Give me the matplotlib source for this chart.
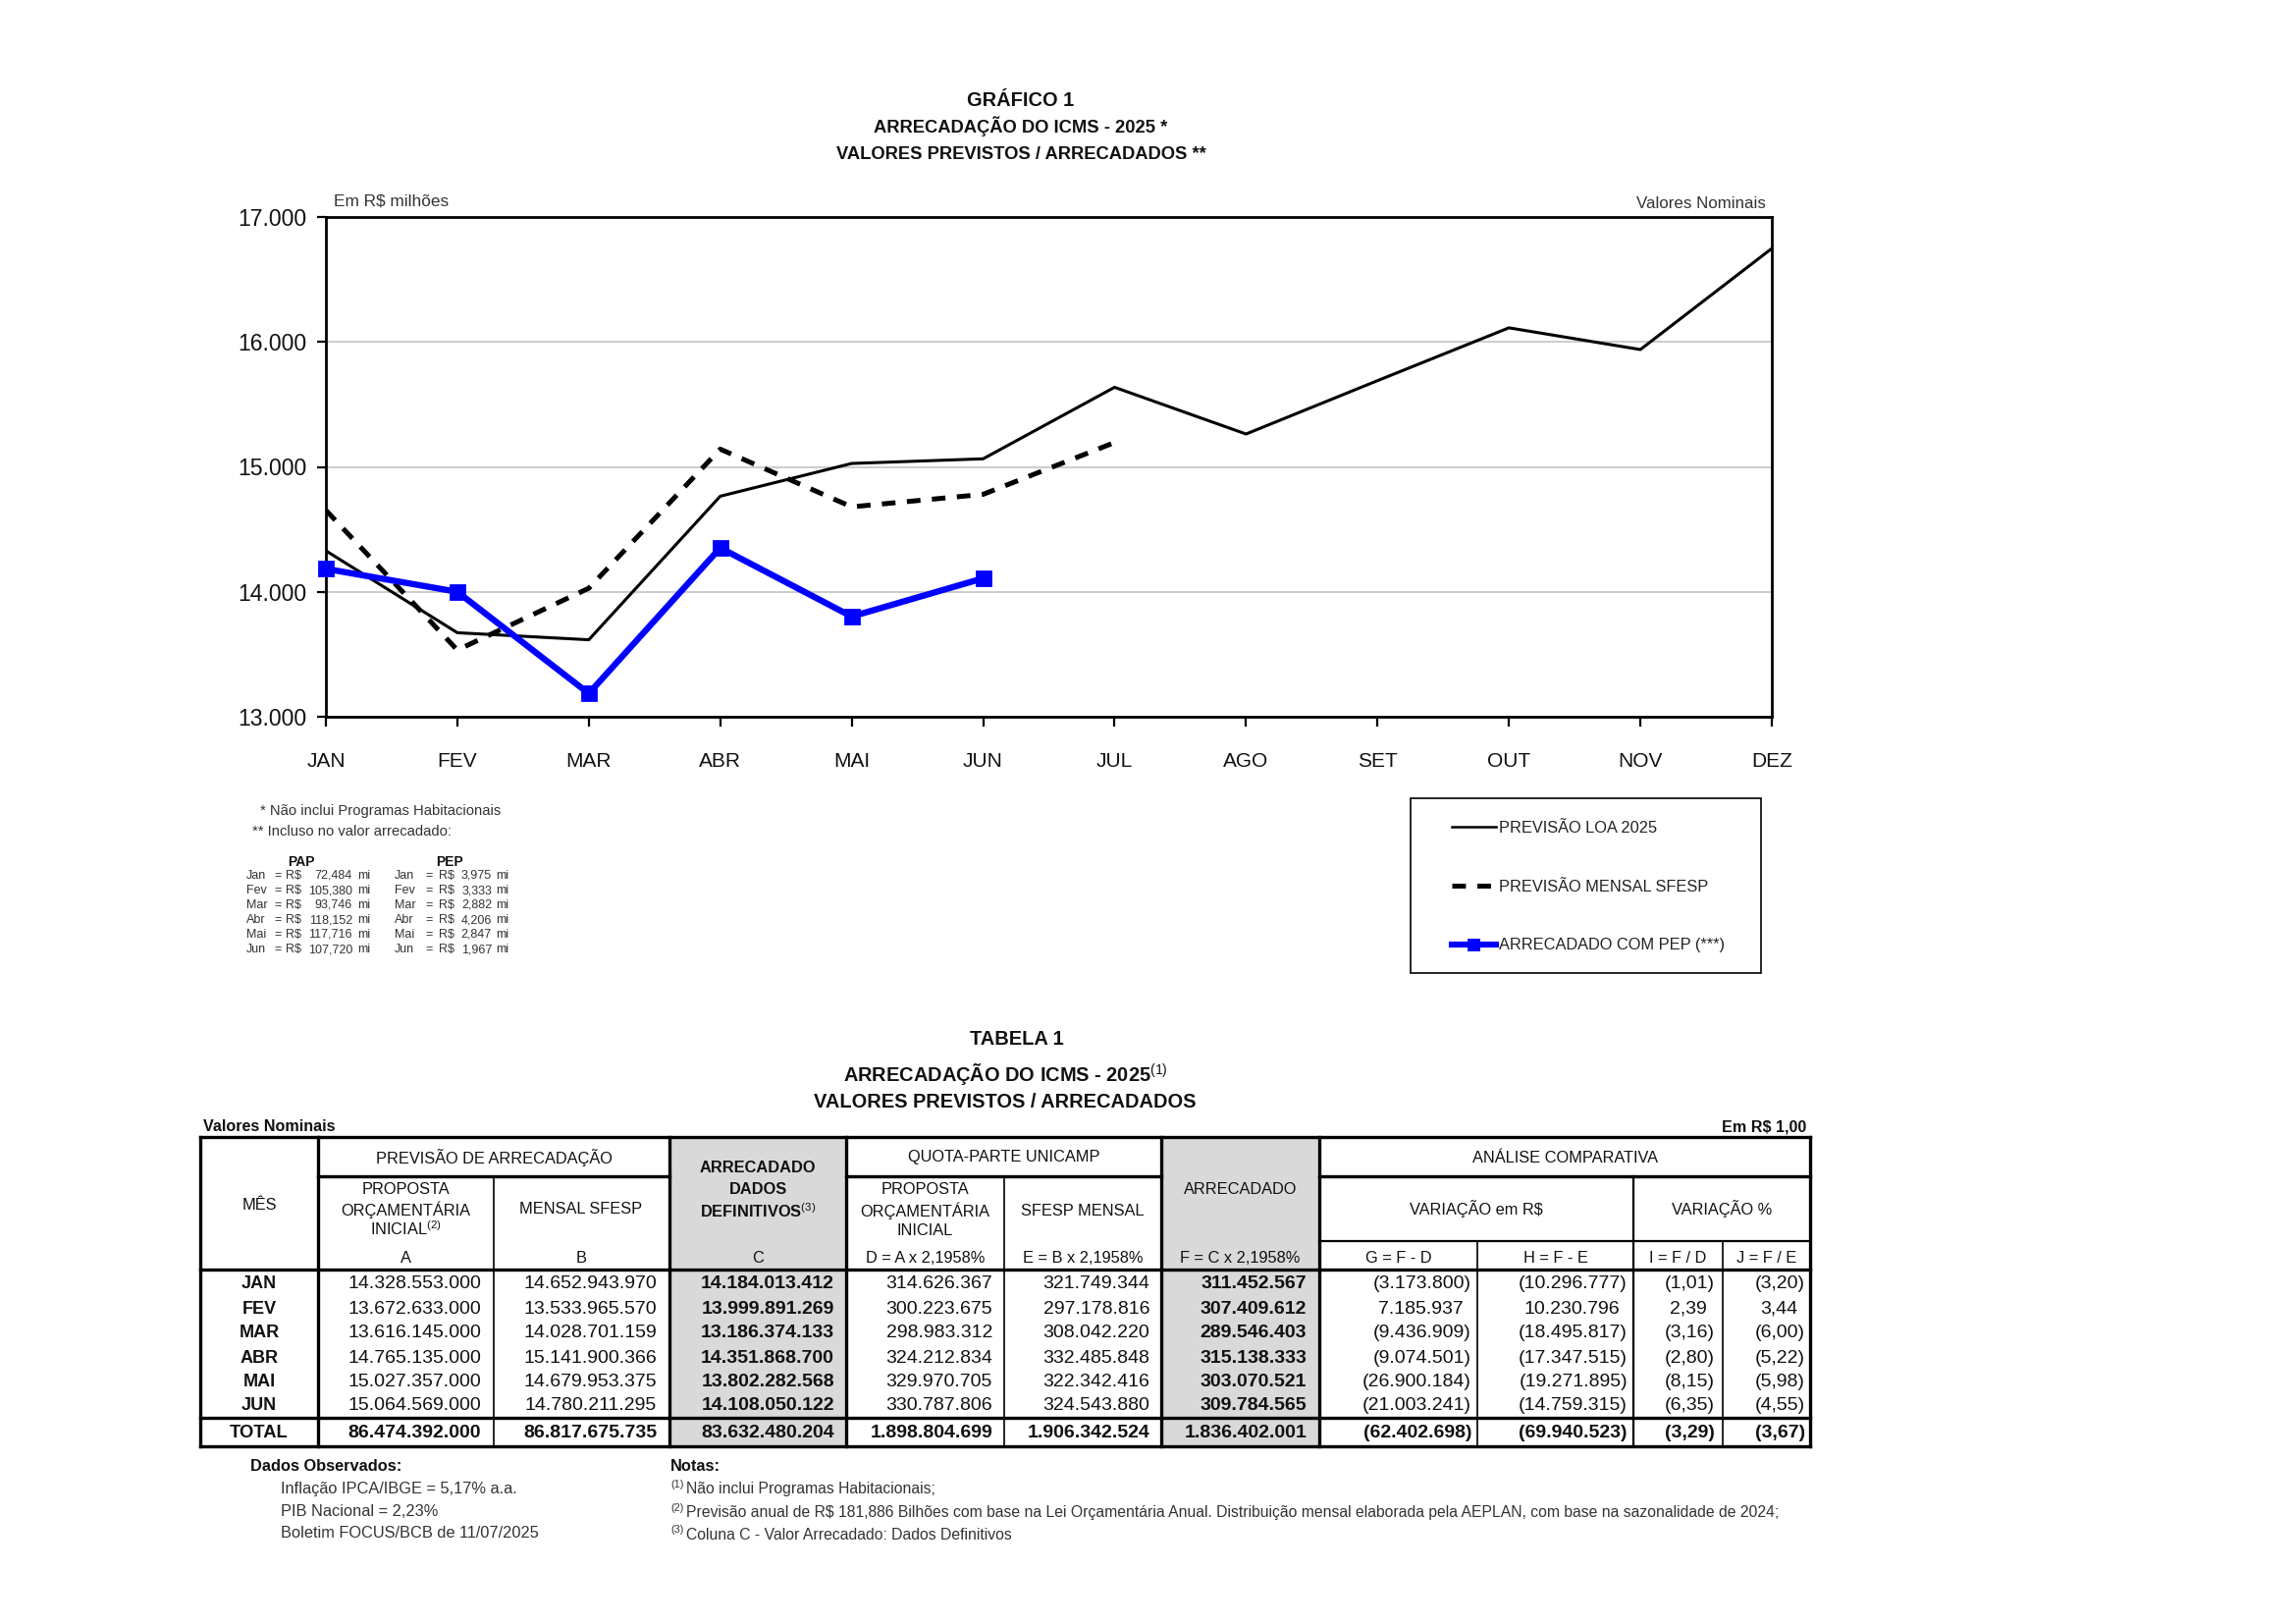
import matplotlib
matplotlib.use("Agg")
import matplotlib.pyplot as plt
from matplotlib.patches import Rectangle

# ---------------- DATA ----------------
months = ["JAN", "FEV", "MAR", "ABR", "MAI", "JUN", "JUL", "AGO", "SET", "OUT", "NOV", "DEZ"]
# chart values in R$ milhões
loa_2025 = [14328.553, 13672.633, 13616.145, 14765.135, 15027.357, 15064.569,
            15637, 15263, 15690, 16113, 15939, 16748]
sfesp_mensal = [14652.944, 13533.966, 14028.701, 15141.900, 14679.953, 14780.211, 15195]
arrecadado_pep = [14184.013, 13999.891, 13186.374, 14351.869, 13802.283, 14108.050]
y_ticks = [13000, 14000, 15000, 16000, 17000]

pap_months = ["Jan", "Fev", "Mar", "Abr", "Mai", "Jun"]
pap_vals = [72.484, 105.380, 93.746, 118.152, 117.716, 107.720]
pep_vals = [3.975, 3.333, 2.882, 4.206, 2.847, 1.967]

legend_labels = ["PREVISÃO LOA 2025", "PREVISÃO MENSAL SFESP", "ARRECADADO COM PEP (***)"]

# table values (R$ 1,00)
tab_months = ["JAN", "FEV", "MAR", "ABR", "MAI", "JUN", "TOTAL"]
col_A = [14328553000, 13672633000, 13616145000, 14765135000, 15027357000, 15064569000, 86474392000]
col_B = [14652943970, 13533965570, 14028701159, 15141900366, 14679953375, 14780211295, 86817675735]
col_C = [14184013412, 13999891269, 13186374133, 14351868700, 13802282568, 14108050122, 83632480204]
col_D = [314626367, 300223675, 298983312, 324212834, 329970705, 330787806, 1898804699]
col_E = [321749344, 297178816, 308042220, 332485848, 322342416, 324543880, 1906342524]
col_F = [311452567, 307409612, 289546403, 315138333, 303070521, 309784565, 1836402001]
col_G = [-3173800, 7185937, -9436909, -9074501, -26900184, -21003241, -62402698]
col_H = [-10296777, 10230796, -18495817, -17347515, -19271895, -14759315, -69940523]
col_I = [-1.01, 2.39, -3.16, -2.80, -8.15, -6.35, -3.29]
col_J = [-3.20, 3.44, -6.00, -5.22, -5.98, -4.55, -3.67]

# ---------------- STYLE ----------------
W, H, DPI = 2339, 1654, 200
plt.rcParams['font.family'] = ['Liberation Sans', 'DejaVu Sans']
plt.rcParams['mathtext.fontset'] = 'custom'
plt.rcParams['mathtext.rm'] = 'Liberation Sans'
plt.rcParams['mathtext.it'] = 'Liberation Sans:italic'
plt.rcParams['mathtext.bf'] = 'Liberation Sans:bold'
plt.rcParams['lines.scale_dashes'] = False

TXT = '#111111'
BLUE = '#0000ff'
GRAY = '#d9d9d9'

fig = plt.figure(figsize=(W / DPI, H / DPI), dpi=DPI)
fig.patch.set_facecolor('white')

# page overlay in pixel coordinates (origin top-left)
pg = fig.add_axes([0, 0, 1, 1])
pg.set_xlim(0, W)
pg.set_ylim(H, 0)
pg.axis('off')


def T(x, y, s, size, ha='center', va='center', weight='normal', color=TXT, **kw):
    return pg.text(x, y, s, fontsize=size, ha=ha, va=va, fontweight=weight, color=color, **kw)


# ---------------- CHART ----------------
L, R, TOP, BOT = 332, 1805, 221, 730
ax = fig.add_axes([L / W, 1 - BOT / H, (R - L) / W, (BOT - TOP) / H])
x_all = list(range(len(months)))
ax.plot(x_all[:len(loa_2025)], loa_2025, color='black', lw=1.1, zorder=3)
ax.plot(x_all[:len(sfesp_mensal)], sfesp_mensal, color='black', lw=1.8,
        dashes=(5, 4.2), zorder=3)
ax.plot(x_all[:len(arrecadado_pep)], arrecadado_pep, color=BLUE, lw=2.3, marker='s',
        ms=5, mfc=BLUE, mec=BLUE, clip_on=False, zorder=5)
ax.set_xlim(0, 11)
ax.set_ylim(13000, 17000)
ax.set_yticks(y_ticks)
ax.set_yticklabels([f"{v:,}".replace(",", ".") for v in y_ticks])
ax.set_xticks(x_all)
ax.set_xticklabels(months)
ax.yaxis.grid(True, color='#c4c4c4', lw=0.6)
ax.set_axisbelow(True)
for sp in ax.spines.values():
    sp.set_linewidth(1.0)
    sp.set_color('black')
ax.tick_params(axis='y', direction='out', length=3.2, width=0.8, pad=4, labelsize=8.3,
               labelcolor=TXT)
ax.tick_params(axis='x', direction='out', length=3.6, width=0.8, pad=9.4, labelsize=7.5,
               labelcolor=TXT)

# chart titles
T(1040, 102, "GRÁFICO 1", 7.2, weight='bold')
T(1040, 129, "ARRECADAÇÃO DO ICMS - 2025 *", 6.6, weight='bold')
T(1040, 157, "VALORES PREVISTOS / ARRECADADOS **", 6.6, weight='bold')
T(340, 205, "Em R$ milhões", 6.2, ha='left', color='#333333')
T(1799, 207, "Valores Nominais", 6.1, ha='right', color='#333333')

# footnotes under chart
T(265, 826, "* Não inclui Programas Habitacionais", 5.3, ha='left', color='#333333')
T(257, 847, "** Incluso no valor arrecadado:", 5.3, ha='left', color='#333333')
T(307, 878, "PAP", 5.0, weight='bold')
T(458, 878, "PEP", 5.0, weight='bold')
row_y0, row_dy = 892, 15
PS = 4.5
for i, m in enumerate(pap_months):
    y = row_y0 + i * row_dy
    T(251, y, m, PS, ha='left', color='#333333')
    T(283, y, "=", PS, color='#333333')
    T(291, y, "R$", PS, ha='left', color='#333333')
    T(359, y, f"{pap_vals[i]:.3f}".replace(".", ","), PS, ha='right', color='#333333')
    T(364, y, "mi", PS, ha='left', color='#333333')
    T(402, y, m, PS, ha='left', color='#333333')
    T(437, y, "=", PS, color='#333333')
    T(447, y, "R$", PS, ha='left', color='#333333')
    T(501, y, f"{pep_vals[i]:.3f}".replace(".", ","), PS, ha='right', color='#333333')
    T(505, y, "mi", PS, ha='left', color='#333333')

# legend box
pg.add_patch(Rectangle((1437, 813), 357, 178, fill=False, ec='black', lw=0.6))
pg.plot([1479, 1524], [842, 842], color='black', lw=0.9)
pg.plot([1479, 1520], [902, 902], color='black', lw=1.8, dashes=(5, 4.2))
pg.plot([1479, 1524], [962, 962], color=BLUE, lw=2.2)
pg.plot([1501], [962], color=BLUE, marker='s', ms=3.6)
for lab, y in zip(legend_labels, [843, 903, 963]):
    T(1527, y, lab, 5.9, ha='left', color='#222222')

# ---------------- TABLE ----------------
T(1036, 1059, "TABELA 1", 7.2, weight='bold')
T(1024, 1095, r"ARRECADAÇÃO DO ICMS - 2025$^{(1)}$", 7.2, weight='bold')
T(1024, 1123, "VALORES PREVISTOS / ARRECADADOS", 7.2, weight='bold')
T(207, 1148, "Valores Nominais", 5.8, ha='left', weight='bold')
T(1840, 1148, "Em R$ 1,00", 5.8, ha='right', weight='bold')

xs = [204, 324, 503, 682, 862, 1023, 1183, 1344, 1505, 1664, 1755, 1844]
y_top, y_h1, y_h2, y_data, y_tot, y_bot = 1158, 1198, 1264, 1293, 1444, 1473

# gray columns
pg.add_patch(Rectangle((xs[3], y_top), xs[4] - xs[3], y_bot - y_top, fc=GRAY, ec='none', zorder=0))
pg.add_patch(Rectangle((xs[6], y_top), xs[7] - xs[6], y_bot - y_top, fc=GRAY, ec='none', zorder=0))

THK, MED, THN = 1.2, 0.8, 0.6


def hl(y, x0, x1, lw):
    pg.plot([x0, x1], [y, y], color='black', lw=lw, solid_capstyle='projecting')


def vl(x, y0, y1, lw):
    pg.plot([x, x], [y0, y1], color='black', lw=lw, solid_capstyle='projecting')


for y in (y_top, y_data, y_tot, y_bot):
    hl(y, xs[0], xs[-1], THK)
hl(y_h1, xs[1], xs[3], THK)
hl(y_h1, xs[4], xs[6], THK)
hl(y_h1, xs[7], xs[11], THK)
hl(y_h2, xs[7], xs[11], MED)
for i in (0, 1, 3, 4, 6, 7, 11):
    vl(xs[i], y_top, y_bot, THK)
vl(xs[2], y_h1, y_bot, THN)
vl(xs[5], y_h1, y_bot, THN)
vl(xs[8], y_h2, y_bot, THN)
vl(xs[9], y_h1, y_bot, MED)
vl(xs[10], y_h2, y_bot, THN)

HS = 5.9
DY = 2
hdr = [
    (264, 1226, "MÊS", 'normal'),
    (503, 1177, "PREVISÃO DE ARRECADAÇÃO", 'normal'),
    (413.5, 1210, "PROPOSTA", 'normal'),
    (413.5, 1230, "ORÇAMENTÁRIA", 'normal'),
    (413.5, 1250, r"INICIAL$^{(2)}$", 'normal'),
    (413.5, 1279, "A", 'normal'),
    (592, 1229, "MENSAL SFESP", 'normal'),
    (592, 1279, "B", 'normal'),
    (772, 1187, "ARRECADADO", 'bold'),
    (772, 1209, "DADOS", 'bold'),
    (772, 1232, r"DEFINITIVOS$^{(3)}$", 'bold'),
    (772, 1279, "C", 'normal'),
    (1023, 1177, "QUOTA-PARTE UNICAMP", 'normal'),
    (942.5, 1210, "PROPOSTA", 'normal'),
    (942.5, 1231, "ORÇAMENTÁRIA", 'normal'),
    (942.5, 1252, "INICIAL", 'normal'),
    (942.5, 1279, "D = A x 2,1958%", 'normal'),
    (1103, 1231, "SFESP MENSAL", 'normal'),
    (1103, 1279, "E = B x 2,1958%", 'normal'),
    (1263.5, 1210, "ARRECADADO", 'normal'),
    (1263.5, 1279, "F = C x 2,1958%", 'normal'),
    (1594, 1177, "ANÁLISE COMPARATIVA", 'normal'),
    (1504, 1229, "VARIAÇÃO em R$", 'normal'),
    (1754, 1229, "VARIAÇÃO %", 'normal'),
    (1424.5, 1279, "G = F - D", 'normal'),
    (1584.5, 1279, "H = F - E", 'normal'),
    (1709.5, 1279, "I = F / D", 'normal'),
    (1799.5, 1279, "J = F / E", 'normal'),
]
for x, y, s, w in hdr:
    T(x, y + DY, s, HS, weight=w)


def fmt_int(v):
    s = f"{abs(v):,}".replace(",", ".")
    return f"({s})" if v < 0 else s


def fmt_pct(v):
    s = f"{abs(v):.2f}".replace(".", ",")
    return f"({s})" if v < 0 else s


row_ys = [1305, 1331, 1355, 1381, 1406, 1430, 1458]
cols = [(col_A, 490, fmt_int, False, False), (col_B, 669, fmt_int, False, False),
        (col_C, 850, fmt_int, True, False), (col_D, 1011, fmt_int, False, False),
        (col_E, 1171, fmt_int, False, False), (col_F, 1331, fmt_int, True, False),
        (col_G, 1499, fmt_int, False, True), (col_H, 1658, fmt_int, False, True),
        (col_I, 1747, fmt_pct, False, True), (col_J, 1839, fmt_pct, False, True)]
DS = 7.0
for r, y in enumerate(row_ys):
    total = (r == len(row_ys) - 1)
    y = y + DY
    T(264, y, tab_months[r], 6.5 if not total else 6.6, weight='bold')
    for vals, xr, f, bold, acct in cols:
        v = vals[r]
        xx = xr - 8 if (acct and v >= 0) else xr
        T(xx, y, f(v), DS, ha='right', weight='bold' if (bold or total) else 'normal')

# notes
T(255, 1494, "Dados Observados:", 5.9, ha='left', weight='bold')
T(286, 1517, "Inflação IPCA/IBGE = 5,17% a.a.", 5.9, ha='left', color='#333333')
T(286, 1539, "PIB Nacional = 2,23%", 5.9, ha='left', color='#333333')
T(286, 1562, "Boletim FOCUS/BCB de 11/07/2025", 5.9, ha='left', color='#333333')
T(683, 1494, "Notas:", 5.9, ha='left', weight='bold')
notes = ["Não inclui Programas Habitacionais;",
         "Previsão anual de R$ 181,886 Bilhões com base na Lei Orçamentária Anual. "
         "Distribuição mensal elaborada pela AEPLAN, com base na sazonalidade de 2024;",
         "Coluna C - Valor Arrecadado: Dados Definitivos"]
for i, (s, y) in enumerate(zip(notes, [1517, 1541, 1563])):
    T(683, y - 5, f"({i + 1})", 3.9, ha='left', color='#333333')
    T(699, y, s, 5.7, ha='left', color='#333333')

fig.savefig("out.png", dpi=DPI, facecolor='white')
